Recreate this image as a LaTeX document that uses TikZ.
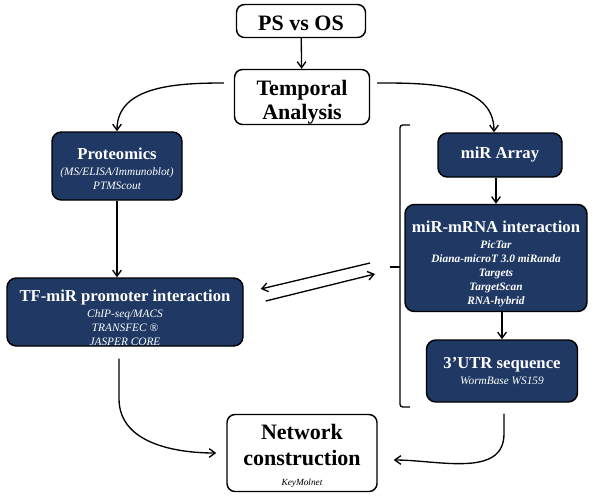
\documentclass[tikz,border=0pt]{standalone}
\usepackage{fontspec}
\setmainfont{Liberation Serif}
\usetikzlibrary{arrows.meta,calc}
\definecolor{navybox}{RGB}{31,56,100}

\tikzset{
  whitebox/.style={draw, rounded corners=6pt, line width=1.1pt, align=center, inner sep=0pt},
  bluebox/.style={draw=black, fill=navybox, rounded corners=7pt, line width=1.1pt, inner sep=0pt},
  bigtext/.style={align=center, inner sep=0pt, font=\fontsize{16.5}{18}\selectfont\bfseries},
  bluetext/.style={align=center, inner sep=0pt, text=white, font=\fontsize{8.5}{10.5}\selectfont\itshape},
  flow/.style={-{Straight Barb[length=4.5pt,width=6.5pt]}, line width=1pt},
}
\newcommand{\boxtitle}[1]{{\fontsize{12.5}{14}\selectfont\bfseries\upshape #1}}

\begin{document}
\begin{tikzpicture}[x=0.75pt,y=0.75pt,yscale=-1,xscale=1]
\useasboundingbox (0,0) rectangle (602,500);

%Shape: Rounded Rectangles
\node[whitebox, minimum width=96.75pt, minimum height=24.75pt] (psos) at (301,21) {};
\node[whitebox, minimum width=101.25pt, minimum height=41.25pt] (temporal) at (302,97) {};
\node[bluebox, minimum width=97.5pt, minimum height=51pt] (prot) at (117,166) {};
\node[bluebox, minimum width=177pt, minimum height=51pt] (tfmir) at (125,312) {};
\node[bluebox, minimum width=93pt, minimum height=33pt] (mirarr) at (500,155) {};
\node[bluebox, minimum width=136.5pt, minimum height=80.25pt] (mirmrna) at (496,258) {};
\node[bluebox, minimum width=113.25pt, minimum height=46.5pt] (utr) at (502,371) {};
\node[whitebox, minimum width=112.5pt, minimum height=57.75pt] (network) at (302,453) {};

% Text Node
\node[bigtext] (psostext) at ($(psos)+(0,2)$) {PS vs OS};
% Text Node
\node[bigtext] (temporaltext) at ($(temporal)+(0,5)$) {Temporal\\Analysis};
% Text Node
\node[bluetext] (prottext) at ($(prot)+(0,3)$) {\boxtitle{Proteomics}\\[1.5pt](MS/ELISA/Immunoblot)\\PTMScout};
% Text Node
\node[bluetext] (tfmirtext) at ($(tfmir)+(0,6)$) {\boxtitle{TF-miR promoter interaction}\\[1.5pt]ChIP-seq/MACS\\TRANSFEC ®\\JASPER CORE};
% Text Node
\node[bluetext] (mirarrtext) at (mirarr) {\boxtitle{miR Array}};
% Text Node
\node[bluetext, font=\fontsize{8.5}{10.5}\selectfont\bfseries\itshape] (mirmrnatext) at ($(mirmrna)+(0,6)$) {\boxtitle{miR-mRNA interaction}\\[1.5pt]PicTar\\Diana-microT 3.0 miRanda\\Targets\\TargetScan\\RNA-hybrid};
% Text Node
\node[bluetext] (utrtext) at (utr) {\boxtitle{3’UTR sequence}\\[2pt]WormBase WS159};
% Text Node
\node[bigtext] (networktext) at ($(network)+(0,3)$) {Network\\[2pt]construction\\[-3pt]{\fontsize{7}{8}\selectfont\mdseries\itshape KeyMolnet}};

%Shape: bracket round the miR side
\draw[line width=1pt, rounded corners=2pt] (410,125) -- (400,125) -- (400,407) -- (410,407);
\coordinate (bracetip) at (390,267);
\draw[line width=1pt] (400,267) -- (bracetip);

%Straight Lines
\draw[flow] (psos) -- (temporal);
\draw[flow] (prot.south) -- (prot.south |- tfmir.north);
\draw[flow] (mirmrna.north |- mirarr.south) -- (mirmrna.north);
\draw[flow] (utr.north |- mirmrna.south) -- (utr.north);
\draw[flow] ($(bracetip)+(-20,-4)$) -- ($(tfmir.east)+(17,-23)$);
\draw[flow] ($(tfmir.east)+(22,-11)$) -- ($(bracetip)+(-15,7)$);

%Curve Lines
\draw[flow] ($(temporal.west)+(-10,-14)$) to[out=180,in=-90] (prot.north);
\draw[flow] ($(temporal.east)+(7,-14)$) to[out=0,in=-90] (mirarr.north -| 494,0);
\draw[flow] ($(tfmir.south)+(-6,12)$) -- ++(0,40) to[out=90,in=180] ($(network.west)+(-10,0)$);
\draw[flow] ($(utr.south)+(2,11)$) -- ++(0,20) to[out=90,in=0] ($(network.east)+(16,7)$);
\end{tikzpicture}
\end{document}
